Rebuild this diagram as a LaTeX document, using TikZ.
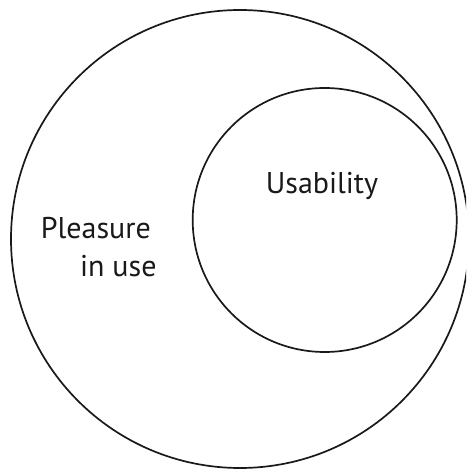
\documentclass[tikz,border=0pt]{standalone}
\usepackage{fontspec}
\setmainfont{PT Sans}
\begin{document}
\begin{tikzpicture}[x=1pt,y=1pt,
  ring/.style={draw=black!90, line width=1.7pt},
  lbl/.style={inner sep=0pt, font=\fontsize{30}{36}\selectfont, text=black!90}]
\useasboundingbox (0,0) rectangle (466,471);
\begin{scope}
\clip (0,0) rectangle (466,471);
\node[ring, circle, minimum size=458pt, inner sep=0pt] (outer) at (240,232) {};
\end{scope}
\node[ring, circle, minimum size=264pt, inner sep=0pt] (inner) at (324.7,251) {};
\node[lbl] (usab) at (322,285) {Usability};
\node[lbl, anchor=base west] (pl) at (40.7,232) {Pleasure};
\node[lbl, anchor=base east] (iu) at (156.7,194) {in use};
\end{tikzpicture}
\end{document}
